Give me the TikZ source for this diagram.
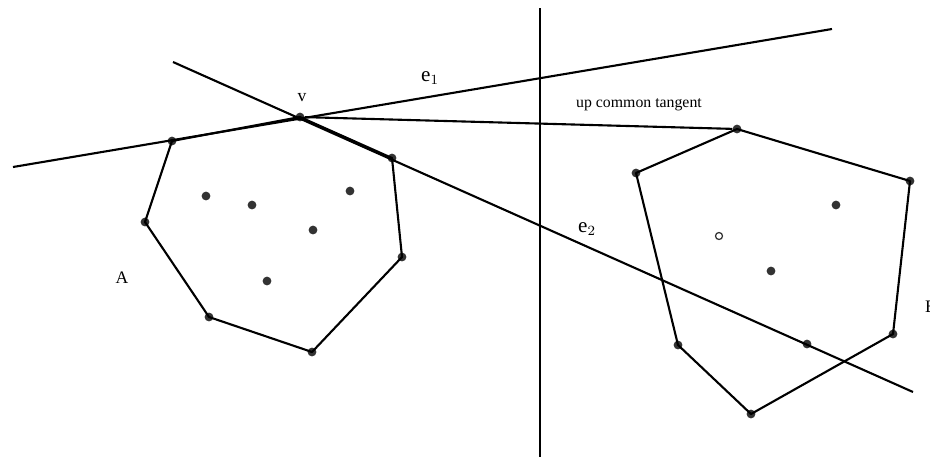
\documentclass[tikz,border=0pt]{standalone}
\usepackage{fontspec}
\setmainfont{Liberation Serif}
\usetikzlibrary{positioning}

\begin{document}
\begin{tikzpicture}[
    x=0.02cm, y=-0.02cm,
    edge/.style={line width=1.2pt, line join=round},
    pt/.style={circle, fill=black!80, inner sep=0pt, minimum size=5pt},
    hollow/.style={circle, draw=black!80, fill=white, line width=0.7pt,
                   inner sep=0pt, minimum size=4pt},
    lbl/.style={font=\normalsize, inner sep=1pt}
  ]
  \useasboundingbox (0,0) rectangle (930,457);

  % ends of the lines
  \coordinate (e1s) at (13,167);
  \coordinate (e1e) at (832,29);
  \coordinate (e2s) at (173,62);
  \coordinate (e2e) at (913,392);
  \coordinate (mtop) at (540,8);
  \coordinate (mbot) at (540,457);

  % hull of A
  \node[pt] (v) at (300,117) {};
  \node[pt] (a1) at (172,141) {};
  \node[pt] (a2) at (145,222) {};
  \node[pt] (a3) at (209,317) {};
  \node[pt] (a4) at (312,352) {};
  \node[pt] (a5) at (402,257) {};
  \node[pt] (a6) at (392,158) {};
  % inner points of A
  \node[pt] (ai1) at (206,196) {};
  \node[pt] (ai2) at (252,205) {};
  \node[pt] (ai3) at (350,191) {};
  \node[pt] (ai4) at (313,230) {};
  \node[pt] (ai5) at (267,281) {};

  % hull of B
  \node[pt] (b1) at (737,129) {};
  \node[pt] (b2) at (910,181) {};
  \node[pt] (b3) at (893,334) {};
  \node[pt] (b4) at (751,414) {};
  \node[pt] (b5) at (678,345) {};
  \node[pt] (b6) at (636,173) {};
  % inner points of B
  \node[pt] (bi1) at (836,205) {};
  \node[hollow] (bi2) at (719,236) {};
  \node[pt] (bi3) at (771,271) {};
  \node[pt] (bi4) at (807,344) {};

  \draw[edge] (e1s) -- (e1e);
  \draw[edge] (e2s) -- (e2e);
  \draw[edge] (mtop) -- (mbot);
  \draw[edge] (v) -- (b1);

  \draw[edge] (v.center) -- (a1.center) -- (a2.center) -- (a3.center)
    -- (a4.center) -- (a5.center) -- (a6.center) -- cycle;
  \draw[edge] (b1.center) -- (b2.center) -- (b3.center) -- (b4.center)
    -- (b5.center) -- (b6.center) -- cycle;

  \node[lbl] (vlbl) at (302,98) {v};
  \node[lbl, font=\large] (e1lbl) at (430,78) {e$_{1}$};
  \node[lbl, font=\large] (e2lbl) at (587,229) {e$_{2}$};
  \node[lbl, font=\small] (tlbl) at (639,105) {up common tangent};
  \node[lbl] (albl) at (122,278) {A};
  \node[lbl, anchor=west] (blbl) at (923,307) {B};
\end{tikzpicture}
\end{document}
